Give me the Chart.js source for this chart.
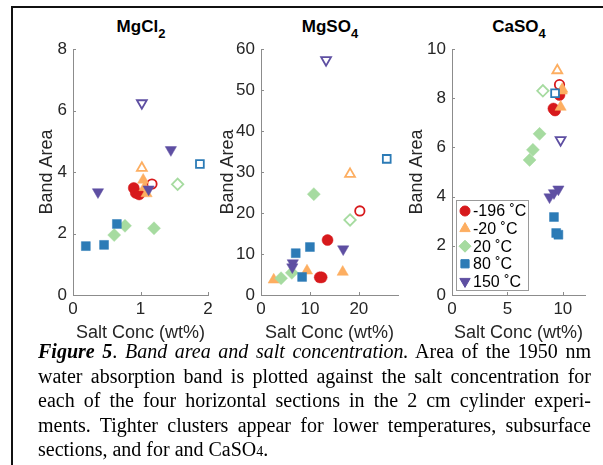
<!DOCTYPE html>
<html>
<head>
<meta charset="utf-8">
<script src="https://cdn.jsdelivr.net/npm/chart.js@4"></script>
<style>
  body { margin: 0; width: 603px; height: 465px; position: relative; background: #fff; overflow: hidden;
         font-family: "Liberation Sans", Arial, sans-serif; }
  .frame { position: absolute; left: 11px; top: 6px; right: -5px; bottom: -5px;
           border-top: 2px solid #111; border-left: 2px solid #111; }
  .panel { position: absolute; top: 10px; }
  .ttl { position: absolute; top: 17px; font-weight: bold; font-size: 17px; color: #000;
         transform: translateX(-50%); white-space: nowrap; }
  .ttl sub { font-size: 13px; vertical-align: -6px; }
  .cap { position: absolute; left: 38px; top: 339px; width: 553px; color: #000;
         font-family: "Liberation Serif", "Times New Roman", serif; font-size: 20px; line-height: 24.5px; }
  .cap div { text-align: justify; text-align-last: justify; }
  .cap div.last { text-align-last: left; }
  .cap sub { font-size: 14px; vertical-align: 0; }
</style>
</head>
<body>
<div class="frame"></div>

<div class="ttl" style="left:141px">MgCl<sub>2</sub></div>
<div class="ttl" style="left:330px">MgSO<sub>4</sub></div>
<div class="ttl" style="left:519px">CaSO<sub>4</sub></div>

<canvas id="mgcl2" class="panel" style="left:30px" width="190" height="335"></canvas>
<canvas id="mgso4" class="panel" style="left:211px" width="200" height="335"></canvas>
<canvas id="caso4" class="panel" style="left:400px" width="200" height="335"></canvas>

<div class="cap">
  <div><b><i>Figure 5</i></b>. <i>Band area and salt concentration.</i> Area of the 1950 nm</div>
  <div>water absorption band is plotted against the salt concentration for</div>
  <div>each of the four horizontal sections in the 2 cm cylinder experi-</div>
  <div>ments. Tighter clusters appear for lower temperatures, subsurface</div>
  <div class="last">sections, and for and CaSO<sub>4</sub>.</div>
</div>

<script>
// temperatures, in legend order
const temps = ['-196 ˚C', '-20 ˚C', '20 ˚C', '80 ˚C', '150 ˚C'];
const colors = ['#d7191c', '#fdae61', '#a6dba0', '#2c7bb6', '#5e4fa2'];
const shapes = ['circle', 'triangle', 'rectRot', 'rect', 'triangle'];
const rotations = [0, 0, 0, 0, 180];
const radii = [5.5, 6.5, 6.5, 6.3, 6.5];

// [salt wt%, band area]; filled = subsurface sections, open = surface section
const mgcl2Filled = [
    [[0.90, 3.48], [0.93, 3.32], [0.98, 3.27]],
    [[1.04, 3.74], [1.09, 3.30], [1.06, 3.50]],
    [[0.61, 1.95], [0.77, 2.25], [1.20, 2.17]],
    [[0.19, 1.59], [0.46, 1.63], [0.65, 2.31]],
    [[0.37, 3.35], [1.12, 3.44], [1.45, 4.72]]
];
const mgcl2Open = [[1.17, 3.61], [1.02, 4.13], [1.55, 3.60], [1.88, 4.26], [1.02, 6.24]];

const mgso4Filled = [
    [[13.6, 13.4], [12.0, 4.3], [12.4, 4.3]],
    [[2.6, 3.7], [9.4, 5.9], [16.7, 5.6]],
    [[4.1, 4.1], [6.3, 5.4], [10.8, 24.6]],
    [[7.1, 10.2], [10.0, 11.7], [8.4, 4.4]],
    [[6.5, 7.8], [6.4, 6.8], [16.8, 11.2]]
];
const mgso4Open = [[20.2, 20.5], [18.2, 29.5], [18.2, 18.3], [25.7, 33.2], [13.3, 57.3]];

const caso4Filled = [
    [[9.70, 8.13], [9.15, 7.58], [9.30, 7.50]],
    [[9.95, 8.37], [9.80, 7.64], [9.90, 8.30]],
    [[7.90, 6.55], [7.30, 5.90], [7.00, 5.49]],
    [[9.20, 3.17], [9.40, 2.52], [9.60, 2.45]],
    [[8.80, 3.98], [9.20, 4.15], [9.60, 4.30]]
];
const caso4Open = [[9.70, 8.55], [9.50, 9.13], [8.20, 8.30], [9.30, 8.20], [9.80, 6.30]];

const toXY = p => ({ x: p[0], y: p[1] });

const buildDatasets = (filled, open) => {
    const sets = [];
    temps.forEach((t, i) => {
        const common = {
            pointStyle: shapes[i], rotation: rotations[i], radius: radii[i],
            pointHoverRadius: radii[i], order: temps.length - i
        };
        sets.push(Object.assign({
            label: t, data: filled[i].map(toXY),
            backgroundColor: colors[i], borderColor: colors[i], borderWidth: 0.5
        }, common));
        sets.push(Object.assign({
            label: t + ' surface', data: [toXY(open[i])],
            backgroundColor: '#ffffff', borderColor: colors[i], borderWidth: 1.8
        }, common, { radius: radii[i] - 0.8, pointHoverRadius: radii[i] - 0.8 }));
    });
    return sets;
};

// MATLAB style: tick marks pointing into the axes
const inwardTicks = {
    id: 'inwardTicks',
    afterDraw(chart) {
        const { ctx, scales: { x, y } } = chart;
        ctx.save();
        ctx.strokeStyle = '#8c8c8c';
        ctx.lineWidth = 1;
        x.ticks.forEach(t => {
            const px = Math.round(x.getPixelForValue(t.value)) + 0.5;
            ctx.beginPath(); ctx.moveTo(px, y.bottom); ctx.lineTo(px, y.bottom - 3); ctx.stroke();
        });
        y.ticks.forEach(t => {
            const py = Math.round(y.getPixelForValue(t.value)) + 0.5;
            ctx.beginPath(); ctx.moveTo(x.left, py); ctx.lineTo(x.left + 3, py); ctx.stroke();
        });
        ctx.restore();
    }
};

// boxed legend inside the CaSO4 axes
const boxLegend = {
    id: 'boxLegend',
    afterDraw(chart) {
        const { ctx, chartArea } = chart;
        const left = chartArea.left + 4, top = chartArea.bottom - 95;
        const w = 72, h = 90, step = 17.6;
        ctx.save();
        ctx.fillStyle = '#ffffff';
        ctx.fillRect(left, top, w, h);
        ctx.strokeStyle = '#9a9a9a';
        ctx.lineWidth = 1;
        ctx.strokeRect(left + 0.5, top + 0.5, w, h);
        ctx.font = '16px "Liberation Sans", Arial, sans-serif';
        ctx.textBaseline = 'middle';
        temps.forEach((t, i) => {
            const cy = top + 11 + i * step;
            ctx.fillStyle = colors[i];
            ctx.strokeStyle = colors[i];
            Chart.helpers.drawPoint(ctx, {
                pointStyle: shapes[i], rotation: rotations[i], radius: radii[i] - 0.5, borderWidth: 0.5
            }, left + 9, cy);
            ctx.fillStyle = '#000';
            ctx.fillText(t, left + 17, cy + 1);
        });
        ctx.restore();
    }
};

const makePanel = (id, filled, open, xMax, xStep, yMax, yStep, yWidth, padRight, extra) => {
    const tickFont = { family: '"Liberation Sans", Arial, sans-serif', size: 17 };
    const titleFont = { family: '"Liberation Sans", Arial, sans-serif', size: 18 };
    new Chart(document.getElementById(id), {
        type: 'scatter',
        data: { datasets: buildDatasets(filled, open) },
        options: {
            responsive: false,
            animation: false,
            layout: { padding: { top: 39, right: padRight, left: 0, bottom: 0 }, autoPadding: false },
            plugins: { legend: { display: false }, tooltip: { enabled: false } },
            scales: {
                x: {
                    type: 'linear', min: 0, max: xMax,
                    ticks: { stepSize: xStep, font: tickFont, color: '#262626', padding: 4,
                             maxRotation: 0, autoSkip: false, includeBounds: false },
                    afterBuildTicks: s => { s.ticks = s.ticks.filter(t => t.value % xStep === 0); },
                    grid: { display: false, drawTicks: false },
                    border: { color: '#8c8c8c', width: 1 },
                    title: { display: true, text: 'Salt Conc (wt%)', font: titleFont, color: '#262626',
                             padding: { top: 0, bottom: 1 } },
                    afterFit: s => { s.height = 50; }
                },
                y: {
                    type: 'linear', min: 0, max: yMax,
                    ticks: { stepSize: yStep, font: tickFont, color: '#262626', padding: 6 },
                    grid: { display: false, drawTicks: false },
                    border: { color: '#8c8c8c', width: 1 },
                    title: { display: true, text: 'Band Area', font: titleFont, color: '#262626',
                             padding: { top: 6, bottom: 0 } },
                    afterFit: s => { s.width = yWidth; }
                }
            }
        },
        plugins: [inwardTicks].concat(extra || [])
    });
};

makePanel('mgcl2', mgcl2Filled, mgcl2Open, 2, 1, 8, 2, 43, 12);
makePanel('mgso4', mgso4Filled, mgso4Open, 28, 10, 60, 10, 50, 13);
makePanel('caso4', caso4Filled, caso4Open, 12, 5, 10, 2, 52, 15, [boxLegend]);
</script>
</body>
</html>
